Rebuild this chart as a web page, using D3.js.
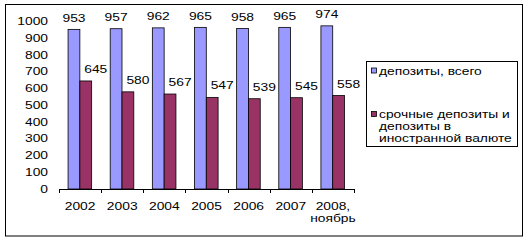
<!DOCTYPE html>
<html lang="ru">
    <head>
        <meta charset="utf-8">
        <title>Депозиты</title>
        <script src="https://d3js.org/d3.v7.min.js"></script>
        <style>
            body { margin: 0; background: #fff; }
            text { font-family: "Liberation Sans", Arial, sans-serif; font-size: 10px; fill: #000; }
        </style>
    </head>

    <body>
        <div id="chart"></div>

        <script>
            // data
            var years = ["2002", "2003", "2004", "2005", "2006", "2007", "2008,\nноябрь"];
            var total = [953, 957, 962, 965, 958, 965, 974];
            var termForeign = [645, 580, 567, 547, 539, 545, 558];
            var seriesNames = ["депозиты, всего", "срочные депозиты и\nдепозиты в\nиностранной валюте"];
            var yTicks = [0, 100, 200, 300, 400, 500, 600, 700, 800, 900, 1000];

            var colors = ["#9999ff", "#993366"];
            var sx = 1.38; // the original text is rendered wide

            var width = 529, height = 241;

            var svg = d3.select("#chart")
                        .append("svg")
                        .attr("width", width)
                        .attr("height", height);

            // outer frame
            svg.append("rect")
                .attr("x", 5.5).attr("y", 4.5)
                .attr("width", 517).attr("height", 231.5)
                .attr("fill", "#fff")
                .attr("stroke", "#000");

            function label(g, x, y, txt, anchor) {
                return g.append("text")
                    .attr("transform", "translate(" + x + "," + y + ") scale(" + sx + ",1)")
                    .attr("text-anchor", anchor || "middle")
                    .text(txt);
            }

            var x0 = d3.scaleBand().domain(years).range([59, 354]);
            var bw = x0.bandwidth();
            var x1 = d3.scaleBand().domain([0, 1]).range([bw * 0.215, bw * 0.775]);
            var y = d3.scaleLinear().domain([0, 1000]).range([189, 21.5]);

            // y tick labels (no axis line)
            yTicks.forEach(function(t){
                label(svg, 48, y(t) + 3.5, t, "end");
            });

            var rows = years.map(function(yr, i){
                return {year: yr, vals: [total[i], termForeign[i]]};
            });

            var groups = svg.selectAll(".grp")
                .data(rows)
                .enter()
                .append("g")
                .attr("class", "grp")
                .attr("transform", function(d){ return "translate(" + x0(d.year) + ",0)"; });

            groups.selectAll("rect")
                .data(function(d){ return d.vals; })
                .enter()
                .append("rect")
                .attr("x", function(d, i){ return x1(i); })
                .attr("y", function(d){ return y(d); })
                .attr("width", x1.bandwidth())
                .attr("height", function(d){ return y(0) - y(d); })
                .attr("fill", function(d, i){ return colors[i]; })
                .attr("stroke", "#000")
                .attr("stroke-width", 0.8);

            // value labels
            groups.each(function(d){
                var g = d3.select(this);
                label(g, x1(0) + x1.bandwidth() / 2, y(d.vals[0]) - 7.5, d.vals[0]);
                label(g, x1(1) + x1.bandwidth() / 2 + 10, y(d.vals[1]) - 8, d.vals[1]);
            });

            // x axis
            var xAxis = svg.append("g");
            xAxis.append("line")
                .attr("x1", 59).attr("x2", 354)
                .attr("y1", 189.5).attr("y2", 189.5)
                .attr("stroke", "#000");
            var bounds = years.map(function(d){ return x0(d); }).concat([354]);
            bounds.forEach(function(b){
                xAxis.append("line")
                    .attr("x1", Math.round(b) + 0.5).attr("x2", Math.round(b) + 0.5)
                    .attr("y1", 189).attr("y2", 193)
                    .attr("stroke", "#000");
            });
            years.forEach(function(yr){
                var cx = x0(yr) + bw / 2;
                yr.split("\n").forEach(function(line, j){
                    label(xAxis, cx, 209.5 + j * 12.5, line);
                });
            });

            // legend
            var lg = svg.append("g");
            lg.append("rect")
                .attr("x", 366.5).attr("y", 61.5)
                .attr("width", 151).attr("height", 85)
                .attr("fill", "#fff")
                .attr("stroke", "#000");
            var legendY = [74.5, 118];
            seriesNames.forEach(function(name, i){
                lg.append("rect")
                    .attr("x", 371.5).attr("y", legendY[i] - 6.5)
                    .attr("width", 5).attr("height", 5)
                    .attr("fill", colors[i])
                    .attr("stroke", "#000")
                    .attr("stroke-width", 0.8);
                name.split("\n").forEach(function(line, j){
                    label(lg, 379, legendY[i] + j * 12, line, "start");
                });
            });
        </script>
    </body>
</html>
